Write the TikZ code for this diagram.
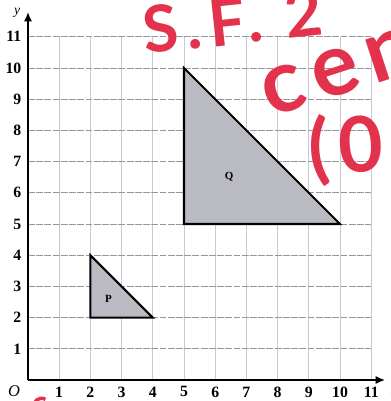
\documentclass[tikz,border=0pt]{standalone}
\usepackage{fontspec}
\setmainfont{Liberation Serif}
\newfontfamily\handfont[LetterSpace=12]{Lato}
\usetikzlibrary{arrows.meta}
\definecolor{gridv}{RGB}{200,200,216}
\definecolor{gridh}{RGB}{150,150,160}
\definecolor{shade}{RGB}{186,186,194}
\definecolor{pen}{RGB}{226,50,76}
\tikzset{
  axis/.style={line width=1.8pt, -{Latex[length=7pt,width=6pt]}},
  tri/.style={draw=black, line width=1.5pt, fill=shade, line join=miter},
  num/.style={font=\fontsize{11.5}{11.5}\selectfont\bfseries, inner sep=1pt},
  lab/.style={font=\fontsize{8}{8}\selectfont\bfseries},
  hand/.style={text=pen, inner sep=0pt, anchor=base west}
}
\begin{document}
\begin{tikzpicture}[x=0.8cm,y=0.8cm]
\useasboundingbox (-0.897,-0.673) rectangle (11.603,12.179);
\clip (-0.897,-0.673) rectangle (11.603,12.179);
% grid
\foreach \i in {1,...,11} {
  \draw[gridv, line width=0.6pt] (\i,0) -- (\i,11);
}
\foreach \j in {1,...,11} {
  \draw[gridh, line width=0.6pt, dash pattern=on 5pt off 1pt] (0,\j) -- (11,\j);
}
% triangles
\draw[tri] (5,5) -- (5,10) -- (10,5) -- cycle;
\draw[tri] (2,2) -- (2,4) -- (4,2) -- cycle;
\node[lab] (Q) at (6.45,6.5) {Q};
\node[lab] (P) at (2.58,2.6) {P};
% axes
\coordinate (O) at (0,0);
\coordinate (xend) at (11.45,0);
\coordinate (yend) at (0,11.8);
\draw[axis] (O) -- (xend);
\draw[axis] (O) -- (yend);
\node[font=\fontsize{10}{10}\selectfont\itshape] (ylab) at (-0.35,11.78) {y};
\node[font=\fontsize{10}{10}\selectfont\itshape, anchor=west] (xlab) at (11.48,-0.36) {x};
\node[num, font=\fontsize{12}{12}\selectfont\itshape] (olab) at (-0.45,-0.36) {O};
\foreach \i in {1,...,11} {
  \node[num] (x\i) at (\i,-0.38) {\i};
  \node[num, anchor=east] (y\i) at (-0.16,\i) {\i};
}
% red handwriting
\node[hand, font=\handfont\bfseries\fontsize{47}{47}\selectfont, rotate=6] (sf) at (3.75,10.45) {S.F.\ 2};
\node[hand, font=\handfont\bfseries\fontsize{64}{64}\selectfont, rotate=18] (cen) at (7.78,8.4) {cen};
\node[hand, font=\handfont\bfseries\fontsize{56}{56}\selectfont, rotate=4] (pt) at (9.05,6.55) {(0};
\draw[pen, line width=2.5pt] (0.2,-0.75) arc (160:60:0.25);
\end{tikzpicture}
\end{document}
